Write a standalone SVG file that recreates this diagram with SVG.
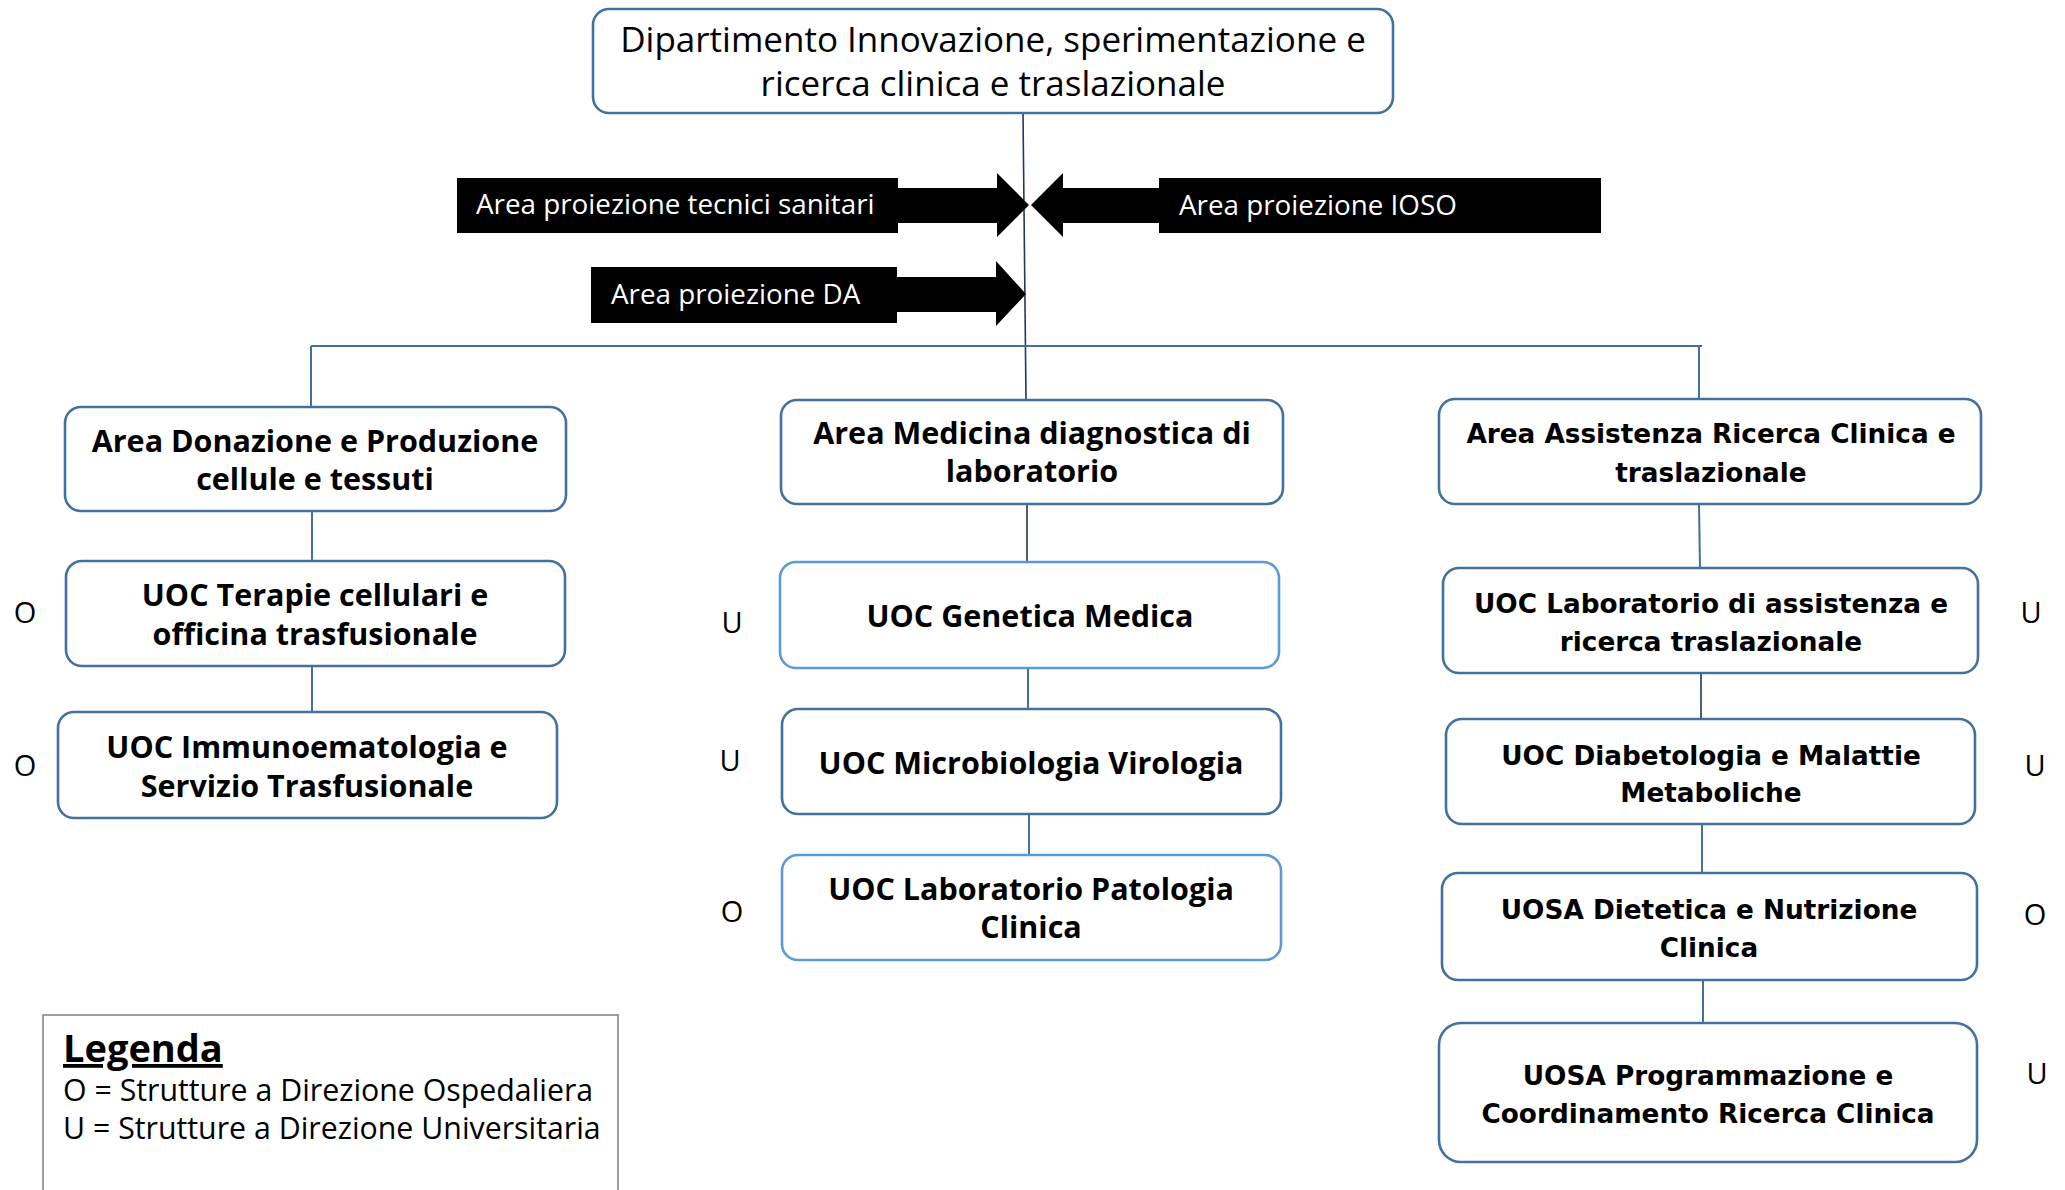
<svg xmlns="http://www.w3.org/2000/svg" width="2065" height="1190" viewBox="0 0 2065 1190">
<style>
.box{fill:#fff;stroke:#41719c;stroke-width:2.6}
.lbox{fill:#fff;stroke:#5b9bd5;stroke-width:2.6}
.t{font-family:"Open Sans","Noto Sans",sans-serif;font-weight:bold;font-size:30.5px;fill:#000;text-anchor:middle}
.tr{font-family:"DejaVu Sans",Verdana,sans-serif;font-weight:bold;font-size:26.3px;fill:#000;text-anchor:middle}
.top{font-family:"Open Sans","Noto Sans",sans-serif;font-size:35px;fill:#000;text-anchor:middle}
.w{font-family:"Open Sans","Noto Sans",sans-serif;font-size:27.8px;fill:#fff}
.m{font-family:"Open Sans","Noto Sans",sans-serif;font-size:29px;fill:#000;text-anchor:middle}
.lg{font-family:"Open Sans","Noto Sans",sans-serif;font-size:30.3px;fill:#000}
.lgh{font-family:"Open Sans","Noto Sans",sans-serif;font-size:38px;font-weight:bold;text-decoration:underline;fill:#000}
.c{stroke:#41719c;stroke-width:2;fill:none}
.cn{stroke:#203864;stroke-width:1.6;fill:none}
</style>
<g id="connectors">
<line class="cn" x1="1023" y1="113" x2="1026" y2="399"/>
<line class="c" x1="311" y1="346" x2="1702" y2="346"/>
<line class="c" x1="311" y1="346" x2="311" y2="407"/>
<line class="c" x1="1699" y1="346" x2="1699" y2="399"/>
<line class="c" x1="312" y1="511" x2="312" y2="561"/>
<line class="c" x1="312" y1="666" x2="312" y2="712"/>
<line class="cn" x1="1027" y1="504" x2="1027" y2="562"/>
<line class="c" x1="1028" y1="668" x2="1028" y2="709"/>
<line class="c" x1="1029" y1="814" x2="1029" y2="855"/>
<line class="c" x1="1699" y1="504" x2="1700" y2="568"/>
<line class="cn" x1="1701" y1="673" x2="1701" y2="719"/>
<line class="c" x1="1702" y1="824" x2="1702" y2="873"/>
<line class="c" x1="1703" y1="980" x2="1703" y2="1023"/>
</g>
<g id="top">
<rect class="box" x="593" y="9" width="800" height="104" rx="16"/>
<text class="top" x="993" y="52">Dipartimento Innovazione, sperimentazione e</text>
<text class="top" x="993" y="96">ricerca clinica e traslazionale</text>
</g>
<g id="proj-tecnici">
<rect x="457" y="178" width="441" height="55" fill="#000"/>
<polygon points="897,188 997,188 997,173 1029,205 997,237 997,223 897,223" fill="#000"/>
<text class="w" x="476" y="214">Area proiezione tecnici sanitari</text>
</g>
<g id="proj-ioso">
<rect x="1159" y="178" width="442" height="55" fill="#000"/>
<polygon points="1160,188 1063,188 1063,173 1031,205 1063,237 1063,223 1160,223" fill="#000"/>
<text class="w" x="1179" y="215">Area proiezione IOSO</text>
</g>
<g id="proj-da">
<rect x="591" y="267" width="306" height="56" fill="#000"/>
<polygon points="896,277 996,277 996,261 1026,294 996,326 996,312 896,312" fill="#000"/>
<text class="w" x="611" y="304">Area proiezione DA</text>
</g>
<g id="area-donazione">
<rect class="box" x="65" y="407" width="501" height="104" rx="16"/>
<text class="t" x="315" y="452">Area Donazione e Produzione</text>
<text class="t" x="315" y="490">cellule e tessuti</text>
</g>
<g id="uoc-terapie">
<rect class="box" x="66" y="561" width="499" height="105" rx="16"/>
<text class="t" x="315" y="606">UOC Terapie cellulari e</text>
<text class="t" x="315" y="645">officina trasfusionale</text>
<text class="m" x="25" y="623">O</text>
</g>
<g id="uoc-immuno">
<rect class="box" x="58" y="712" width="499" height="106" rx="16"/>
<text class="t" x="307" y="758">UOC Immunoematologia e</text>
<text class="t" x="307" y="797">Servizio Trasfusionale</text>
<text class="m" x="25" y="776">O</text>
</g>
<g id="area-medicina">
<rect class="box" x="781" y="400" width="502" height="104" rx="16"/>
<text class="t" x="1032" y="444">Area Medicina diagnostica di</text>
<text class="t" x="1032" y="482">laboratorio</text>
</g>
<g id="uoc-genetica">
<rect class="lbox" x="780" y="562" width="499" height="106" rx="16"/>
<text class="t" x="1030" y="627">UOC Genetica Medica</text>
<text class="m" x="732" y="633">U</text>
</g>
<g id="uoc-micro">
<rect class="box" x="782" y="709" width="499" height="105" rx="16"/>
<text class="t" x="1031" y="774">UOC Microbiologia Virologia</text>
<text class="m" x="730" y="771">U</text>
</g>
<g id="uoc-patologia">
<rect class="lbox" x="782" y="855" width="499" height="105" rx="16"/>
<text class="t" x="1031" y="900">UOC Laboratorio Patologia</text>
<text class="t" x="1031" y="938">Clinica</text>
<text class="m" x="732" y="922">O</text>
</g>
<g id="area-assistenza">
<rect class="box" x="1439" y="399" width="542" height="105" rx="16"/>
<text class="tr" x="1711" y="443">Area Assistenza Ricerca Clinica e</text>
<text class="tr" x="1711" y="482">traslazionale</text>
</g>
<g id="uoc-lab-assistenza">
<rect class="box" x="1443" y="568" width="535" height="105" rx="16"/>
<text class="tr" x="1711" y="613">UOC Laboratorio di assistenza e</text>
<text class="tr" x="1711" y="651">ricerca traslazionale</text>
<text class="m" x="2031" y="623">U</text>
</g>
<g id="uoc-diabetologia">
<rect class="box" x="1446" y="719" width="529" height="105" rx="16"/>
<text class="tr" x="1711" y="765">UOC Diabetologia e Malattie</text>
<text class="tr" x="1711" y="802">Metaboliche</text>
<text class="m" x="2035" y="776">U</text>
</g>
<g id="uosa-dietetica">
<rect class="box" x="1442" y="873" width="535" height="107" rx="16"/>
<text class="tr" x="1709" y="919">UOSA Dietetica e Nutrizione</text>
<text class="tr" x="1709" y="957">Clinica</text>
<text class="m" x="2035" y="925">O</text>
</g>
<g id="uosa-programmazione">
<rect class="box" x="1439" y="1023" width="538" height="139" rx="22"/>
<text class="tr" x="1708" y="1085">UOSA Programmazione e</text>
<text class="tr" x="1708" y="1123">Coordinamento Ricerca Clinica</text>
<text class="m" x="2037" y="1084">U</text>
</g>
<g id="legend">
<rect x="43" y="1015" width="575" height="190" fill="#fff" stroke="#7f7f7f" stroke-width="1.5"/>
<text class="lgh" x="63" y="1062">Legenda</text>
<text class="lg" x="63" y="1101">O = Strutture a Direzione Ospedaliera</text>
<text class="lg" x="63" y="1139">U = Strutture a Direzione Universitaria</text>
</g>
</svg>
